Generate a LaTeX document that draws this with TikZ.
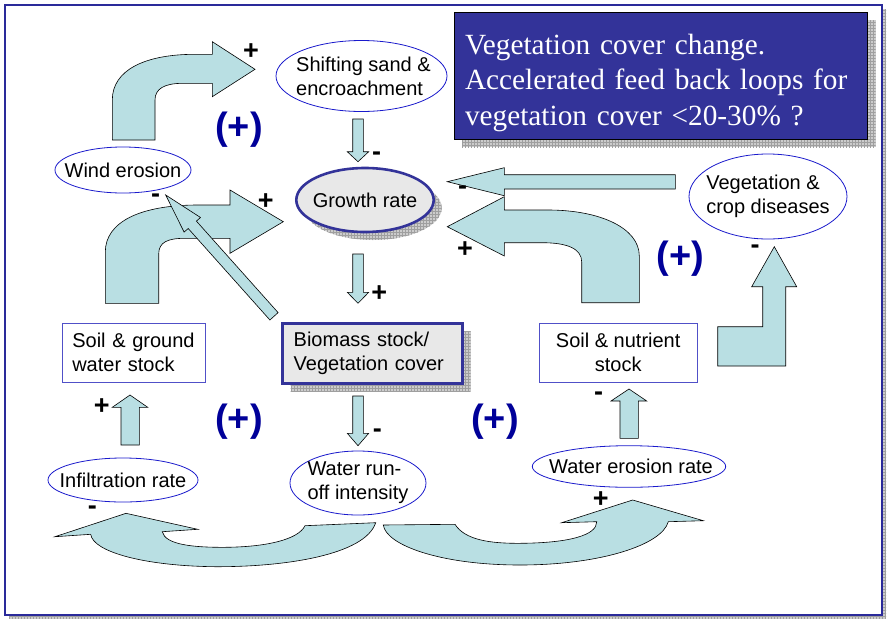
\documentclass[tikz,border=0pt]{standalone}
\usepackage{fontspec}
\setmainfont{Liberation Sans}
\newfontfamily\titlefont{Liberation Serif}
\usetikzlibrary{shapes.geometric,patterns}
\definecolor{arr}{HTML}{B9DFE3}
\definecolor{navy}{HTML}{333399}
\definecolor{elb}{HTML}{1A1ACC}
\definecolor{plusc}{HTML}{000099}
\definecolor{gbox}{HTML}{E8E8E8}
\definecolor{recb}{HTML}{5050C8}
\definecolor{framec}{HTML}{2A2A9A}
\begin{document}
\begin{tikzpicture}[x=1pt,y=-1pt,
  blockarrow/.style={fill=arr, draw=black, line width=0.6pt, line join=miter},
  ell/.style={ellipse, draw=elb, line width=0.8pt, fill=white, inner sep=0pt},
  gell/.style={ellipse, draw=navy, line width=2.6pt, fill=gbox, inner sep=0pt},
  txt/.style={font=\fontsize{20}{24}\selectfont, inner sep=0pt},
  rbox/.style={rectangle, draw=recb, line width=0.9pt, fill=white, inner ysep=0pt, font=\fontsize{20}{24}\selectfont},
  bbox/.style={rectangle, draw=navy, line width=2.6pt, fill=gbox, inner ysep=0pt, font=\fontsize{20}{24}\selectfont},
  sign/.style={font=\bfseries\fontsize{27}{27}\selectfont, inner sep=0pt},
  loop/.style={font=\bfseries\fontsize{38}{40}\selectfont, text=plusc, inner sep=0pt},
  shade/.style={fill=gray!40},
  gridpat/.style={pattern=grid, pattern color=gray!75}
]
\useasboundingbox (0,0) rectangle (887,619);
\fill[white] (0,0) rectangle (887,619);
% outer frame with shadow
\fill[shade] (9,9) rectangle (886,619);
\fill[gridpat] (9,9) rectangle (886,619);
\draw[framec, line width=1.3pt, fill=white] (5,5) rectangle (882,615);

% title box
\fill[shade] (462,20.3) rectangle (875.7,147.3);
\fill[gridpat] (462,20.3) rectangle (875.7,147.3);
\node[rectangle, fill=navy, draw=black, line width=0.8pt, minimum width=413.7, minimum height=127,
      inner sep=0pt] (title) at (660.85,75.8) {};
\node[text width=391.7, inner sep=0pt, align=left, text=white,
      font=\titlefont\fontsize{29.3}{35.5}\selectfont, anchor=center] (titletext) at ([yshift=-7]title.center)
  {Vegetation cover change.\\Accelerated feed back loops for\\vegetation cover <20-30\% ?};

% block arrows
% top-left bent arrow (wind erosion -> shifting sand)
\draw[blockarrow] (112.3,140) -- (112.3,100) .. controls (112.3,70) and (145,54.3) .. (195,54.3)
  -- (212.3,54.3) -- (212.3,41.7) -- (255,69.3) -- (212.3,96.7) -- (212.3,83.3) -- (183,83.3)
  .. controls (164,83.3) and (155,89) .. (155,100) -- (155,140) -- cycle;
% middle-left bent arrow (soil & ground water -> growth rate)
\draw[blockarrow] (105.3,303.3) -- (105.3,252) .. controls (105.3,222) and (140,205) .. (198,205)
  -- (230,205) -- (230,190) -- (283.3,221.7) -- (230,253.3) -- (230,238.3) -- (185,238.3)
  .. controls (168,238.3) and (158.7,242) .. (158.7,254) -- (158.7,303.3) -- cycle;
% diagonal arrow (biomass -> wind erosion)
\draw[blockarrow] (165.7,195) -- (200.5,217.5) -- (196.4,221.1) -- (278.1,312.6) -- (269.9,320)
  -- (188.2,228.5) -- (184.1,232.1) -- cycle;
% small vertical arrows
\draw[blockarrow] (352.7,119) -- (363.3,119) -- (363.3,151.7) -- (368.7,151.7) -- (358,161.7) -- (347.3,151.7) -- (352.7,151.7) -- cycle;
\draw[blockarrow] (352.7,254) -- (363.3,254) -- (363.3,292.3) -- (368.7,292.3) -- (358,303.3) -- (347.3,292.3) -- (352.7,292.3) -- cycle;
\draw[blockarrow] (352.7,396) -- (363.3,396) -- (363.3,433.3) -- (368.7,433.3) -- (358,445.7) -- (347.3,433.3) -- (352.7,433.3) -- cycle;
\draw[blockarrow] (121,445) -- (139.3,445) -- (139.3,407.3) -- (147.7,407.3) -- (130,395) -- (112.3,407.3) -- (121,407.3) -- cycle;
\draw[blockarrow] (620,438.3) -- (638.3,438.3) -- (638.3,401) -- (646.7,401) -- (629,389) -- (611,401) -- (620,401) -- cycle;
% L-shaped arrow (soil & nutrient -> diseases)
\draw[blockarrow] (717.7,366) -- (785.7,366) -- (785.7,286.7) -- (796.7,286.7) -- (774.3,246.7) -- (751.7,286.7)
  -- (762.7,286.7) -- (762.7,326.7) -- (717.7,326.7) -- cycle;
% left straight arrow (diseases -> growth rate)
\draw[blockarrow] (675.3,174.7) -- (675.3,189) -- (504.3,189) -- (504.3,195.7) -- (447.3,181.7) -- (504.3,167.7) -- (504.3,174.7) -- cycle;
% right bent arrow (soil & nutrient -> growth rate)
\draw[blockarrow] (639.3,302.7) -- (639.3,256) .. controls (639.3,228) and (600,210) .. (548,210)
  -- (504.3,210) -- (504.3,196.7) -- (447.3,226.7) -- (504.3,256) -- (504.3,242.7) -- (542,242.7)
  .. controls (568,242.7) and (581.7,249) .. (581.7,262) -- (581.7,302.7) -- cycle;
% bottom-left curved arrow (run-off -> infiltration)
\draw[blockarrow] (55,536.7) -- (126,513.3) -- (197.7,529.3) -- (162.3,531.7)
  .. controls (165,545) and (195,547.5) .. (225,547.3) .. controls (265,547) and (298,540) .. (305,525.7)
  -- (375.7,522.7) .. controls (365,555) and (285,567) .. (215,566.7)
  .. controls (145,566) and (93,552) .. (90.7,534.3) -- cycle;
% bottom-right curved arrow (run-off -> water erosion)
\draw[blockarrow] (383.3,525) -- (455,524.3) .. controls (465,540) and (490,543.5) .. (520,543.3)
  .. controls (570,543) and (597,535) .. (596.7,521.7) -- (561.7,522.7) -- (632.7,500) -- (703.3,520.7)
  -- (668.3,521.7) .. controls (662,545) and (600,565) .. (520,565)
  .. controls (440,565) and (386,545) .. (383.3,525) -- cycle;

% ellipses
\node[ell, minimum width=171, minimum height=71] (sand) at (361.5,76) {};
\node[txt, align=left] at ([xshift=2]sand.center) {Shifting sand \&\\encroachment};
\node[ell, minimum width=136, minimum height=46] (wind) at (123,170) {};
\node[txt] at (wind) {Wind erosion};
\fill[shade] (373,208) ellipse [x radius=68.7pt, y radius=32pt];
\fill[gridpat] (373,208) ellipse [x radius=68.7pt, y radius=32pt];
\node[gell, minimum width=137.4, minimum height=64] (growth) at (365,200) {};
\node[txt] at (growth) {Growth rate};
\node[ell, minimum width=158, minimum height=85] (dis) at (768,196.5) {};
\node[txt, align=left] at (dis) {Vegetation \&\\crop diseases};
\node[ell, minimum width=150, minimum height=44] (infil) at (123,480) {};
\node[txt] at (infil) {Infiltration rate};
\node[ell, minimum width=136, minimum height=64] (runoff) at (358,483) {};
\node[txt, align=left] at (runoff) {Water run-\\off intensity};
\node[ell, minimum width=193.4, minimum height=41.6] (werosion) at (629,466.5) {};
\node[txt] at ([xshift=2]werosion.center) {Water erosion rate};

% boxes
\node[rbox, minimum width=143, minimum height=59, text width=123, inner xsep=10, align=left] (soilg) at (133.8,352.8) {Soil \& ground\\water stock};
\fill[shade] (290.7,331.3) rectangle (470.7,391.3);
\fill[gridpat] (290.7,331.3) rectangle (470.7,391.3);
\node[bbox, minimum width=180, minimum height=60, text width=158, inner xsep=11, align=left] (bio) at (372.7,353.3) {Biomass stock/\\Vegetation cover};
\node[rbox, minimum width=157.7, minimum height=59, align=center] (soiln) at (618.2,352.8) {Soil \& nutrient\\stock};

% signs
\node[sign] (s1) at (251,51.7) {+};
\node[sign] (s2) at (155.7,198) {-};
\node[sign] (s3) at (265.7,201.7) {+};
\node[sign] (s4) at (376.7,156.3) {-};
\node[sign] (s5) at (379.3,293.3) {+};
\node[sign] (s6) at (377.3,433) {-};
\node[sign] (s7) at (101.7,406.7) {+};
\node[sign] (s8) at (92.3,509.7) {-};
\node[sign] (s9) at (598.7,396.3) {-};
\node[sign] (s10) at (600.7,499.3) {+};
\node[sign] (s11) at (462.7,189.7) {-};
\node[sign] (s12) at (465,250) {+};
\node[sign] (s13) at (755,248.7) {-};

% loop labels
\node[loop] (l1) at (239,130) {(+)};
\node[loop] (l2) at (680.7,258.3) {(+)};
\node[loop] (l3) at (239,421.7) {(+)};
\node[loop] (l4) at (495,421.7) {(+)};
\end{tikzpicture}
\end{document}
